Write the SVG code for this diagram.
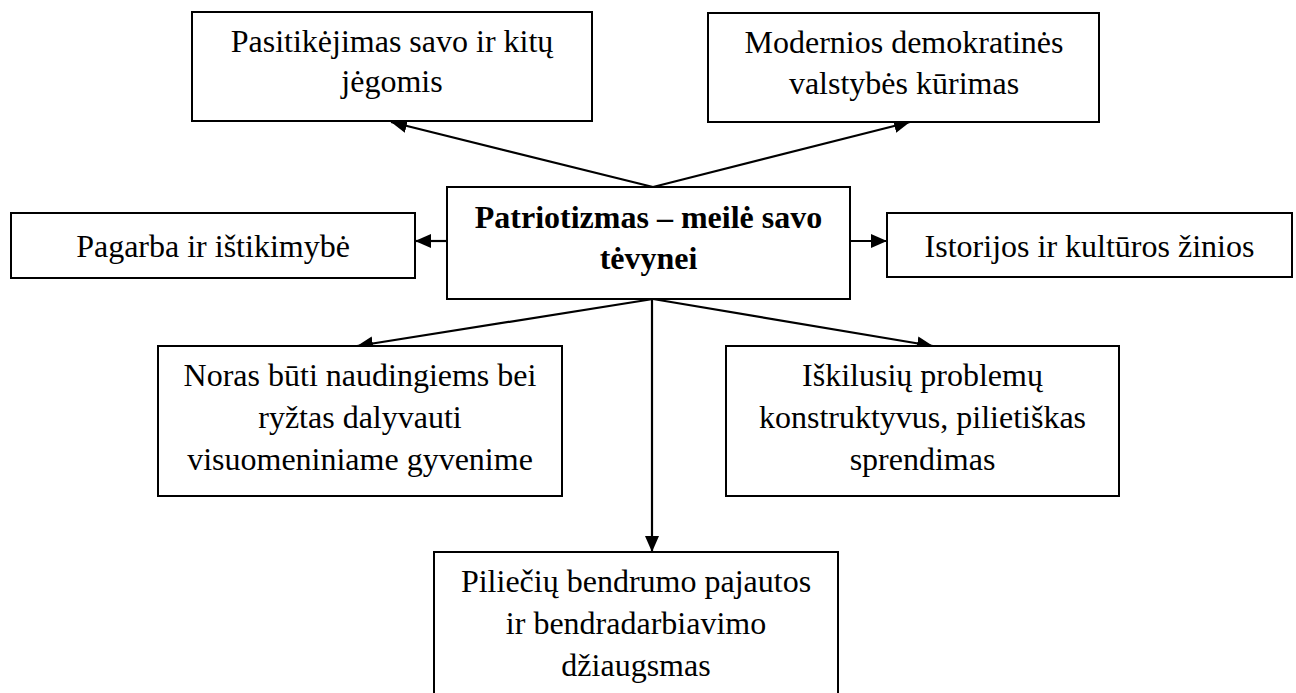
<svg xmlns="http://www.w3.org/2000/svg" width="1296" height="693" viewBox="0 0 1296 693">
<style>
.box{fill:#fff;stroke:#000;stroke-width:2}
.t{font-family:"Liberation Serif","Tinos","Times New Roman","DejaVu Serif",serif;font-size:32px;fill:#000;text-anchor:middle}
.b{font-weight:bold}
.c{stroke:#000;stroke-width:2.2;fill:none;marker-end:url(#ah)}
</style>
<defs>
<marker id="ah" markerUnits="userSpaceOnUse" markerWidth="18" markerHeight="16" refX="16" refY="7" orient="auto">
<path d="M0,0 L16,7 L0,14 Z" fill="#000"/>
</marker>
</defs>
<rect width="1296" height="693" fill="#fff"/>
<g id="connectors">
<line class="c" x1="653" y1="187" x2="391" y2="122"/>
<line class="c" x1="653" y1="187" x2="910" y2="122"/>
<line class="c" x1="447" y1="241" x2="415" y2="241"/>
<line class="c" x1="850" y1="241" x2="887" y2="241"/>
<line class="c" x1="653" y1="299" x2="357" y2="346"/>
<line class="c" x1="653" y1="299" x2="933" y2="346"/>
<line class="c" x1="652" y1="299" x2="652" y2="552"/>
</g>
<g id="n-top-left">
<rect class="box" x="192" y="12" width="400" height="109"/>
<text class="t" x="392" y="52" font-family="Liberation Serif, serif">Pasitikėjimas savo ir kitų</text>
<text class="t" x="392" y="92" font-family="Liberation Serif, serif">jėgomis</text>
</g>
<g id="n-top-right">
<rect class="box" x="708" y="13" width="391" height="109"/>
<text class="t" x="904" y="53">Modernios demokratinės</text>
<text class="t" x="904" y="94">valstybės kūrimas</text>
</g>
<g id="n-center">
<rect class="box" x="447" y="187" width="403" height="112"/>
<text class="t b" x="648.5" y="228">Patriotizmas – meilė savo</text>
<text class="t b" x="648.5" y="269">tėvynei</text>
</g>
<g id="n-left">
<rect class="box" x="11" y="213" width="404" height="65"/>
<text class="t" x="213" y="257">Pagarba ir ištikimybė</text>
</g>
<g id="n-right">
<rect class="box" x="887" y="213" width="405" height="64"/>
<text class="t" x="1089.5" y="257">Istorijos ir kultūros žinios</text>
</g>
<g id="n-lower-left">
<rect class="box" x="158" y="346" width="404" height="150"/>
<text class="t" x="360" y="386">Noras būti naudingiems bei</text>
<text class="t" x="360" y="428">ryžtas dalyvauti</text>
<text class="t" x="360" y="470">visuomeniniame gyvenime</text>
</g>
<g id="n-lower-right">
<rect class="box" x="726" y="346" width="393" height="150"/>
<text class="t" x="922.5" y="386">Iškilusių problemų</text>
<text class="t" x="922.5" y="428">konstruktyvus, pilietiškas</text>
<text class="t" x="922.5" y="470">sprendimas</text>
</g>
<g id="n-bottom">
<rect class="box" x="434" y="552" width="404" height="160"/>
<text class="t" x="636" y="592">Piliečių bendrumo pajautos</text>
<text class="t" x="636" y="634">ir bendradarbiavimo</text>
<text class="t" x="636" y="676">džiaugsmas</text>
</g>
</svg>
